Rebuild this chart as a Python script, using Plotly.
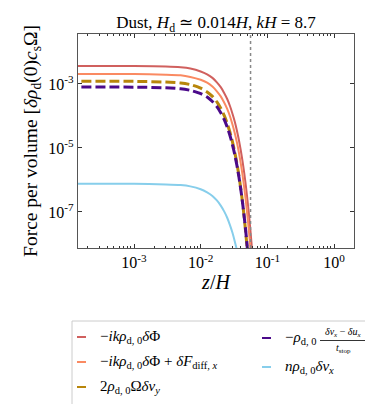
import plotly.graph_objects as go

# z/H sample points and log10 of force per volume
z = [1e-4, 1e-3, 3e-3, 5e-3, 7e-3, 0.01, 0.0125, 0.015, 0.0175, 0.02, 0.0225,
     0.025, 0.0275, 0.03, 0.0325, 0.035, 0.0375, 0.04, 0.0425, 0.045, 0.0475,
     0.05, 0.0525, 0.055, 0.0575, 0.06, 0.0625]

log_grav = [-2.44, -2.44, -2.455, -2.48, -2.52, -2.61, -2.70, -2.81, -2.95, -3.10,
            -3.28, -3.47, -3.69, -3.93, -4.18, -4.46, -4.76, -5.08, -5.42, -5.78,
            -6.16, -6.57, -6.99, -7.43, -7.90, -8.38, -8.89]
log_grav_diff = [-2.69, -2.69, -2.71, -2.73, -2.78, -2.87, -2.96, -3.08, -3.23, -3.39,
                 -3.58, -3.78, -4.01, -4.27, -4.54, -4.83, -5.15, -5.49, -5.85, -6.23,
                 -6.64, -7.07, -7.51, -7.98, -8.48, -8.99]
log_coriolis = [-2.92, -2.92, -2.94, -2.97, -3.02, -3.13, -3.25, -3.39, -3.56, -3.76,
                -3.98, -4.23, -4.51, -4.81, -5.14, -5.49, -5.87, -6.28, -6.71, -7.17,
                -7.66, -8.17, -8.71]
log_drag = [-3.10, -3.10, -3.12, -3.15, -3.20, -3.30, -3.41, -3.55, -3.71, -3.90,
            -4.11, -4.35, -4.61, -4.90, -5.21, -5.55, -5.91, -6.30, -6.71, -7.15,
            -7.61, -8.10, -8.61]
log_shear = [-6.12, -6.12, -6.14, -6.16, -6.20, -6.29, -6.39, -6.50, -6.64, -6.80,
             -6.98, -7.18, -7.41, -7.65, -7.92, -8.20, -8.51]

z_dust = [0.056]  # dotted vertical marker

names = [
    "−<i>ikρ</i><sub>d, 0</sub><i>δ</i>Φ",
    "−<i>ikρ</i><sub>d, 0</sub><i>δ</i>Φ + <i>δF</i><sub>diff, <i>x</i></sub>",
    "2<i>ρ</i><sub>d, 0</sub>Ω<i>δv<sub>y</sub></i>",
    "−<i>ρ</i><sub>d, 0</sub>",
    "<i>nρ</i><sub>d, 0</sub><i>δv<sub>x</sub></i>",
]
colors = ["#d0605e", "#fa8a62", "#b8860b", "#4b0a8a", "#87ceeb"]
series = [log_grav, log_grav_diff, log_coriolis, log_drag, log_shear]
dashes = ["solid", "solid", "10px,4px", "10px,4px", "solid"]
widths = [2, 2, 3, 3, 2]

SERIF = "Liberation Serif"

fig = go.Figure()
for vals, c, d, w in zip(series, colors, dashes, widths):
    fig.add_trace(go.Scatter(
        x=z[:len(vals)], y=[10 ** v for v in vals], mode="lines",
        line=dict(color=c, dash=d, width=w, shape="spline", smoothing=0.6),
        showlegend=False,
    ))

fig.add_shape(type="line", xref="x", yref="paper", x0=z_dust[0], x1=z_dust[0],
              y0=0, y1=1, line=dict(color="#888888", width=1.5, dash="dot"))

# ---- hand-made legend (short keys, two columns) ----
def px(x):
    return (x - 70) / 276

def py(y):
    return (240 - y) / 214

fig.add_shape(type="rect", xref="paper", yref="paper", x0=px(64), x1=px(366),
              y0=py(313), y1=py(397), line=dict(color="#cccccc", width=1),
              fillcolor="white")
key_pos = [(69, 329), (69, 354), (69, 379), (254, 330), (254, 359)]
for (kx, ky), c, name in zip(key_pos, colors, names):
    fig.add_shape(type="line", xref="paper", yref="paper", x0=px(kx), x1=px(kx + 9),
                  y0=py(ky), y1=py(ky), line=dict(color=c, width=2))
    fig.add_annotation(x=px(kx + 21), y=py(ky), xref="paper", yref="paper",
                       text=name, showarrow=False, xanchor="left", yanchor="middle",
                       font=dict(family=SERIF, size=15, color="black"))
# stacked fraction of the drag term
fig.add_annotation(x=px(335), y=py(324), xref="paper", yref="paper",
                   text="<i>δv<sub>x</sub></i> − <i>δu<sub>x</sub></i>", showarrow=False,
                   xanchor="center", yanchor="middle",
                   font=dict(family=SERIF, size=10, color="black"))
fig.add_shape(type="line", xref="paper", yref="paper", x0=px(312), x1=px(357),
              y0=py(332.5), y1=py(332.5), line=dict(color="black", width=0.8))
fig.add_annotation(x=px(335), y=py(340), xref="paper", yref="paper",
                   text="<i>t</i><sub>stop</sub>", showarrow=False,
                   xanchor="center", yanchor="middle",
                   font=dict(family=SERIF, size=10, color="black"))

minor_x = [m * 10 ** e for e in range(-4, 1) for m in range(2, 10)]

fig.update_layout(
    width=373, height=404,
    margin=dict(l=70, r=27, t=26, b=164),
    plot_bgcolor="white", paper_bgcolor="white",
    font=dict(family=SERIF, size=16, color="black"),
    title=dict(text="Dust, <i>H</i><sub>d</sub> ≃ 0.014<i>H</i>, <i>kH</i> = 8.7",
               x=208 / 373, xanchor="center", y=1 - 14 / 404, yanchor="middle",
               font=dict(family=SERIF, size=17)),
    xaxis=dict(
        type="log", range=[-3.84, 0.30], showgrid=False, zeroline=False,
        showline=True, linecolor="#555555", linewidth=1.2, mirror="allticks",
        ticks="inside", ticklen=4, tickcolor="#333333",
        tickvals=[1e-3, 1e-2, 1e-1, 1],
        ticktext=["10<sup>-3</sup>", "10<sup>-2</sup>", "10<sup>-1</sup>", "10<sup>0</sup>"],
        minor=dict(tickvals=minor_x, ticks="inside", ticklen=2, tickcolor="#333333"),
        tickfont=dict(family=SERIF, size=16),
        title=dict(text="<i>z</i>/<i>H</i>", standoff=4, font=dict(family=SERIF, size=20)),
    ),
    yaxis=dict(
        type="log", range=[-8.125, -1.44], showgrid=False, zeroline=False,
        showline=True, linecolor="#555555", linewidth=1.2, mirror="allticks",
        ticks="inside", ticklen=4, tickcolor="#333333",
        tickvals=[1e-7, 1e-5, 1e-3],
        ticktext=["10<sup>-7</sup>", "10<sup>-5</sup>", "10<sup>-3</sup>"],
        tickfont=dict(family=SERIF, size=16),
        title=dict(text="Force per volume [<i>δρ</i><sub>d</sub>(0)<i>c</i><sub>s</sub>Ω]",
                   standoff=5, font=dict(family=SERIF, size=19.5)),
    ),
)

fig.write_html("out.html")
